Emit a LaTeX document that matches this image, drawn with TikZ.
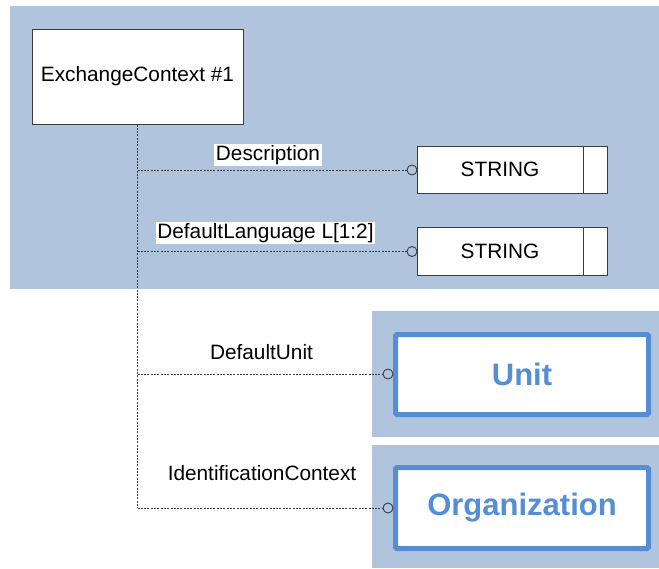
\documentclass[tikz,border=0pt]{standalone}
\usepackage{fontspec}
\setmainfont{Liberation Sans}
\definecolor{bgblue}{RGB}{176,196,222}
\definecolor{entblue}{RGB}{85,142,213}
\definecolor{edge}{RGB}{60,60,60}
\tikzset{
  bgpanel/.style={fill=bgblue, draw=none},
  typebox/.style={draw=edge, fill=white, line width=1pt, inner sep=0pt},
  entbox/.style={draw=entblue, fill=white, line width=5pt, rounded corners=1.5pt, inner sep=0pt,
     text=entblue, font=\fontsize{31}{36}\selectfont\bfseries},
  conn/.style={draw=edge, line width=0.9pt, dash pattern=on 2pt off 1.3pt},
  endcirc/.style={circle, draw=edge, line width=0.9pt, minimum size=10pt, inner sep=0pt},
  lbl/.style={font=\fontsize{20.8}{24}\selectfont, inner sep=1.5pt},
  wlbl/.style={lbl, fill=white},
}
\begin{document}
\begin{tikzpicture}[x=1pt,y=-1pt]
\useasboundingbox (0,0) rectangle (659,568);
% panels
\fill[bgblue] (10,6) rectangle (659,289);
\fill[bgblue] (372,311) rectangle (659,437);
\fill[bgblue] (372,445) rectangle (659,568);
% main box
\node[typebox, minimum width=211pt, minimum height=95pt, lbl] (ec) at (137.5,76.5) {ExchangeContext \#1};
% string boxes
\node[typebox, minimum width=190pt, minimum height=47pt] (s1) at (512,169.5) {};
\draw[edge, line width=1pt] (583,146) -- (583,193);
\node[lbl] (s1t) at (500,169.5) {STRING};
\node[typebox, minimum width=190pt, minimum height=48pt] (s2) at (512,251) {};
\draw[edge, line width=1pt] (583,227) -- (583,275);
\node[lbl] (s2t) at (500,251) {STRING};
% entity boxes
\node[entbox, minimum width=253pt, minimum height=80pt] (unit) at (522,374.5) {Unit};
\node[entbox, minimum width=253pt, minimum height=81pt] (org) at (522,508) {Organization};
% end circles
\node[endcirc] (c1) at (412,170) {};
\node[endcirc] (c2) at (412,251.5) {};
\node[endcirc] (c3) at (388,374) {};
\node[endcirc] (c4) at (388,508) {};
% connectors
\draw[conn] (ec.south) -- (ec.south |- c4.west);
\draw[conn] (ec.south |- c1.west) -- (c1.west);
\draw[conn] (ec.south |- c2.west) -- (c2.west);
\draw[conn] (ec.south |- c3.west) -- (c3.west);
\draw[conn] (ec.south |- c4.west) -- (c4.west);
% labels
\node[wlbl] (l1) at (268,155) {Description};
\node[wlbl] (l2) at (265.5,233) {DefaultLanguage L[1:2]};
\node[lbl] (l3) at (261.5,352) {DefaultUnit};
\node[lbl] (l4) at (262,473) {IdentificationContext};
\end{tikzpicture}
\end{document}
